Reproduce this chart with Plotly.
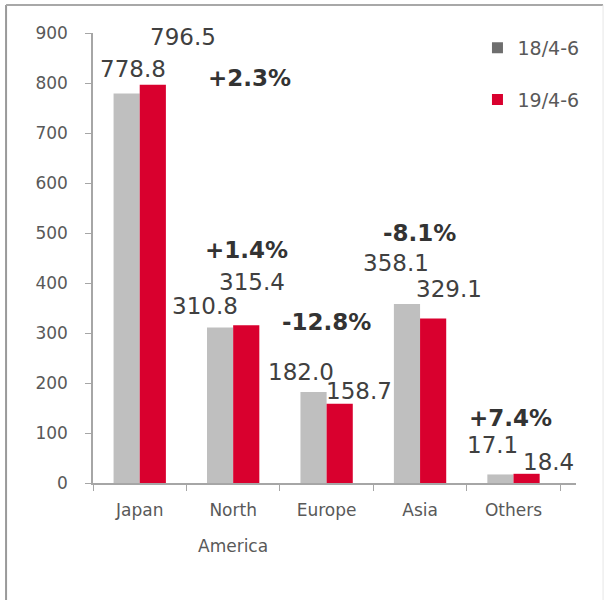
import plotly.graph_objects as go

categories = ["Japan", "North America", "Europe", "Asia", "Others"]
series_names = ["18/4-6", "19/4-6"]
values_18 = [778.8, 310.8, 182.0, 358.1, 17.1]
values_19 = [796.5, 315.4, 158.7, 329.1, 18.4]
value_text_18 = ["778.8", "310.8", "182.0", "358.1", "17.1"]
value_text_19 = ["796.5", "315.4", "158.7", "329.1", "18.4"]
change_text = ["+2.3%", "+1.4%", "-12.8%", "-8.1%", "+7.4%"]
y_ticks = [0, 100, 200, 300, 400, 500, 600, 700, 800, 900]

# label offsets (pixels) relative to category center / bar value
off_18 = [(-7, 25), (-28, 22), (-26, 20), (-24, 41), (-21, 29)]
off_19 = [(43, 48), (19, 43), (32, 13), (29, 29), (35, 12)]
off_chg = [(110, 7), (13, 75), (0, 82), (-1, 85), (-3, 56)]

GRAY_BAR = "#bfbfbf"
RED_BAR = "#d9002e"
GRAY_LEG = "#6e6e6e"
TXT = "#404040"
AX = "#a6a6a6"

fig = go.Figure()
fig.add_trace(go.Bar(x=categories, y=values_18, name=series_names[0],
                     marker=dict(color=GRAY_BAR, line=dict(width=0)), showlegend=False))
fig.add_trace(go.Bar(x=categories, y=values_19, name=series_names[1],
                     marker=dict(color=RED_BAR, line=dict(width=0)), showlegend=False))
# legend entries
for nm, col in zip(series_names, [GRAY_LEG, RED_BAR]):
    fig.add_trace(go.Scatter(x=[None], y=[None], mode="markers", name=nm, legendgroup=nm,
                             marker=dict(symbol="square", size=11, color=col)))

ann = []
for i, c in enumerate(categories):
    ann.append(dict(x=c, y=values_18[i], text=value_text_18[i], showarrow=False,
                    xshift=off_18[i][0], yshift=off_18[i][1], xanchor="center", yanchor="middle",
                    font=dict(size=23, color=TXT)))
    ann.append(dict(x=c, y=values_19[i], text=value_text_19[i], showarrow=False,
                    xshift=off_19[i][0], yshift=off_19[i][1], xanchor="center", yanchor="middle",
                    font=dict(size=23, color=TXT)))
    ann.append(dict(x=c, y=values_19[i], text="<b>" + change_text[i] + "</b>", showarrow=False,
                    xshift=off_chg[i][0], yshift=off_chg[i][1], xanchor="center", yanchor="middle",
                    font=dict(size=23, color="#333333")))

tick_text = [c.split(" ")[0] for c in categories]
for c in categories:
    parts = c.split(" ")
    if len(parts) > 1:
        ann.append(dict(x=c, y=0, xref="x", yref="y", text=" ".join(parts[1:]), showarrow=False,
                        yshift=-63, xanchor="center", yanchor="middle",
                        font=dict(size=17, color="#595959")))

shapes = [
    dict(type="line", xref="paper", yref="paper", x0=-0.180, x1=-0.180, y0=-0.4, y1=1.062,
         line=dict(color="#9a9a9a", width=2)),
    dict(type="line", xref="paper", yref="paper", x0=-0.180, x1=1.056, y0=1.062, y1=1.062,
         line=dict(color="#a8a8a8", width=2)),
    dict(type="line", xref="paper", yref="paper", x0=1.056, x1=1.056, y0=-0.4, y1=1.062,
         line=dict(color="#e6e6e6", width=1)),
]

fig.update_layout(
    width=609, height=600,
    margin=dict(l=93, r=33, t=33, b=117),
    paper_bgcolor="white", plot_bgcolor="white",
    font=dict(family="DejaVu Sans", color="#595959"),
    barmode="group", bargap=0.44, bargroupgap=0,
    annotations=ann, shapes=shapes,
    legend=dict(x=0.796, y=1.009, xanchor="left", yanchor="top", font=dict(size=19, color="#595959"),
                tracegroupgap=24, traceorder="grouped", bgcolor="rgba(0,0,0,0)"),
    xaxis=dict(tickmode="array", tickvals=categories, ticktext=tick_text,
               showline=True, linecolor=AX, linewidth=1.5, ticks="outside", tickson="boundaries",
               ticklen=6, tickcolor=AX, tickfont=dict(size=17, color="#595959"), showgrid=False,
               ticklabelstandoff=11),
    yaxis=dict(range=[0, 900], tickvals=y_ticks, showline=True, linecolor=AX, linewidth=1.5,
               ticks="outside", ticklen=6, tickcolor=AX, showgrid=False, zeroline=False,
               tickfont=dict(size=17, color="#595959"), ticklabelstandoff=14),
)

fig.write_html("out.html", config={"displayModeBar": False},
               post_script="document.body.style.margin='0px';")
